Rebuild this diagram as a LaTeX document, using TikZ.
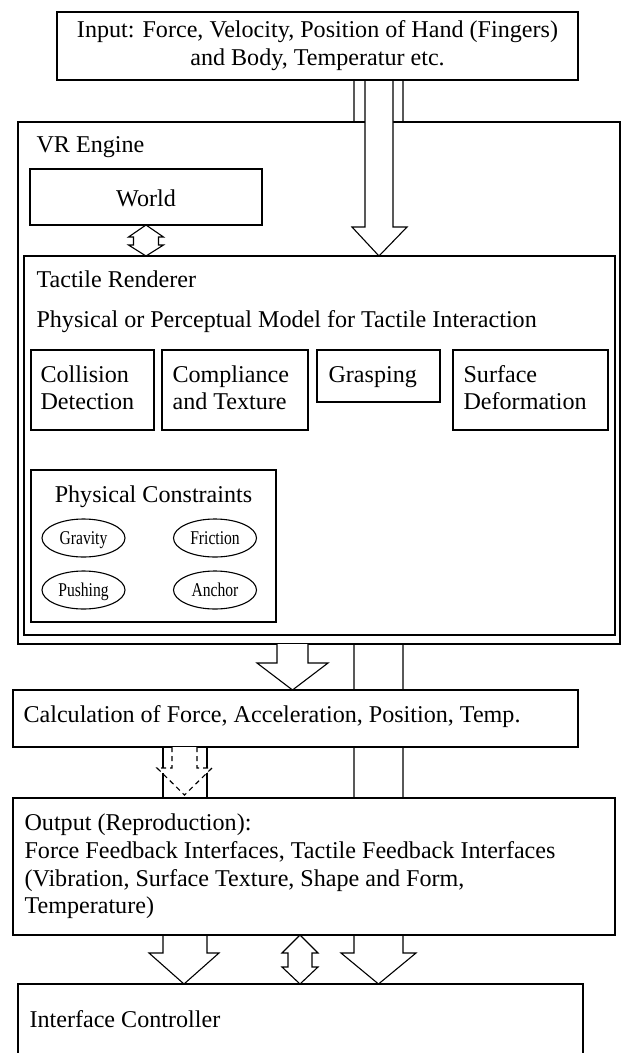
\documentclass[tikz,border=0pt]{standalone}
\usepackage{fontspec}
\setmainfont{Liberation Serif}
\newfontfamily\narrowserif[FakeStretch=0.8]{Liberation Serif}
\usetikzlibrary{shapes.geometric}
\newcommand\mainfs{\fontsize{24.1}{27.6}\selectfont}
\newcommand\smallfs{\narrowserif\fontsize{19.5}{21}\selectfont}
\begin{document}
\begin{tikzpicture}[x=1pt,y=-1pt,line width=1.1pt,line join=miter,
  box/.style={draw,fill=white,anchor=north west,inner sep=0pt,outer sep=0pt},
  lbl/.style={anchor=base west,inner sep=0pt,font=\mainfs},
  ctr/.style={anchor=base,inner sep=0pt,font=\mainfs},
  oval/.style={draw,fill=white,ellipse,minimum width=83pt,minimum height=38pt,inner sep=0pt},
  ovaltext/.style={anchor=base,inner sep=0pt,font=\smallfs},
  barrow/.style={draw,fill=white},
  dashline/.style={dash pattern=on 5pt off 4pt}]
\useasboundingbox (0,0) rectangle (621,1053);
\clip (0,0) rectangle (621,1053);

% positions of boxes used as connector ends
\path (57,12) node[box,draw=none,fill=none,minimum width=521pt,minimum height=68pt] (input) {};
\path (13,690) node[box,draw=none,fill=none,minimum width=565pt,minimum height=57pt] (calc) {};
\path (18,984) node[box,draw=none,fill=none,minimum width=565pt,minimum height=90pt] (iface) {};

% through channels
\draw[barrow] (354,0 |- input.south) -- (354,953) -- (341,953) -- (378.5,0 |- iface.north) -- (416,953) -- (403,953) -- (403,0 |- input.south);
\draw[barrow] (163,0 |- calc.south) -- (163,953) -- (149,953) -- (184,0 |- iface.north) -- (219,953) -- (207,953) -- (207,0 |- calc.south);

% VR engine
\node[box,minimum width=602pt,minimum height=522pt] (vr) at (18,122) {};
\node[lbl] (vrlbl) at (36,152.7) {VR Engine};
\node[box,minimum width=232pt,minimum height=56pt] (world) at (30,169) {};
\node[ctr] (worldlbl) at (146,206) {World};

% tactile renderer
\node[box,minimum width=591pt,minimum height=379pt] (tact) at (24,256) {};
\node[lbl] (tactlbl) at (36,287) {Tactile Renderer};
\node[lbl] (modellbl) at (36,327) {Physical or Perceptual Model for Tactile Interaction};

\node[box,minimum width=123pt,minimum height=80pt] (coll) at (31,350) {};
\node[lbl] (coll1) at (40,382) {Collision};
\node[lbl] (coll2) at (40,409) {Detection};
\node[box,minimum width=146pt,minimum height=80pt] (comp) at (162,350) {};
\node[lbl] (comp1) at (172,382) {Compliance};
\node[lbl] (comp2) at (172,409) {and Texture};
\node[box,minimum width=123pt,minimum height=52pt] (grasp) at (317,350) {};
\node[lbl] (grasp1) at (328,382) {Grasping};
\node[box,minimum width=155pt,minimum height=80pt] (surf) at (453,350) {};
\node[lbl] (surf1) at (463,382) {Surface};
\node[lbl] (surf2) at (463,409) {Deformation};

\node[box,minimum width=245pt,minimum height=152pt] (phys) at (31,470) {};
\node[ctr] (physlbl) at (153.5,502) {Physical Constraints};
\node[oval] (gravity) at (83.5,538) {};
\node[ovaltext] (gravitylbl) at (83.5,544) {Gravity};
\node[oval] (friction) at (215,538) {};
\node[ovaltext] (frictionlbl) at (215,544) {Friction};
\node[oval] (pushing) at (83.5,590) {};
\node[ovaltext] (pushinglbl) at (83.5,596) {Pushing};
\node[oval] (anchor) at (215,590) {};
\node[ovaltext] (anchorlbl) at (215,596) {Anchor};

% input -> tactile renderer
\draw[barrow] (365,0 |- input.south) -- (365,227) -- (352,227) -- (379,0 |- tact.north) -- (407,227) -- (393,227) -- (393,0 |- input.south);
% world <-> tactile renderer
\draw[barrow] (146,0 |- world.south) -- (163.5,237) -- (158.5,237) -- (158.5,245) -- (163.5,245) -- (146,0 |- tact.north) -- (128.5,245) -- (133.5,245) -- (133.5,237) -- (128.5,237) -- cycle;

% calculation
\node[box,minimum width=565pt,minimum height=57pt] (calcbox) at (13,690) {};
\node[lbl] (calclbl) at (23,722) {Calculation of Force, Acceleration, Position, Temp.};
% vr -> calc
\draw[barrow] (277,0 |- vr.south) -- (277,663) -- (257,663) -- (292.5,0 |- calc.north) -- (328,663) -- (308,663) -- (308,0 |- vr.south);

% output
\node[box,minimum width=602pt,minimum height=137pt] (out) at (13,798) {};
% calc -> output (dashed)
\fill[white] (172,0 |- calc.south) -- (172,768) -- (157,768) -- (184.5,795) -- (212,768) -- (197,768) -- (197,0 |- calc.south) -- cycle;
\draw[dashline] (172,0 |- calc.south) -- (172,768) -- (157,768) -- (184.5,795) -- (212,768) -- (197,768) -- (197,0 |- calc.south);
\draw (163,773) -- (163,0 |- out.north) (207,773) -- (207,0 |- out.north);
\draw (163,0 |- calc.south) -- (163,768) (207,0 |- calc.south) -- (207,768);
\draw (13,798) rectangle (615,935);

\node[lbl] (out1) at (24,830) {Output (Reproduction):};
\node[lbl] (out2) at (24,858) {Force Feedback Interfaces, Tactile Feedback Interfaces};
\node[lbl] (out3) at (24,886) {(Vibration, Surface Texture, Shape and Form,};
\node[lbl] (out4) at (24,913) {Temperature)};

% output <-> interface
\draw[barrow] (300,0 |- out.south) -- (318,953) -- (312,953) -- (312,967) -- (318,967) -- (300,0 |- iface.north) -- (282,967) -- (288,967) -- (288,953) -- (282,953) -- cycle;

% interface controller
\draw[fill=white] (18,1070) -- (18,984) -- (583,984) -- (583,1070);
\node[lbl] (ifacelbl) at (29,1027) {Interface Controller};

% input
\node[box,minimum width=521pt,minimum height=68pt] (inbox) at (57,12) {};
\node[ctr] (in1) at (317.5,37) {Input: Force, Velocity, Position of Hand (Fingers)};
\node[ctr] (in2) at (317.5,65) {and Body, Temperatur etc.};
\end{tikzpicture}
\end{document}
